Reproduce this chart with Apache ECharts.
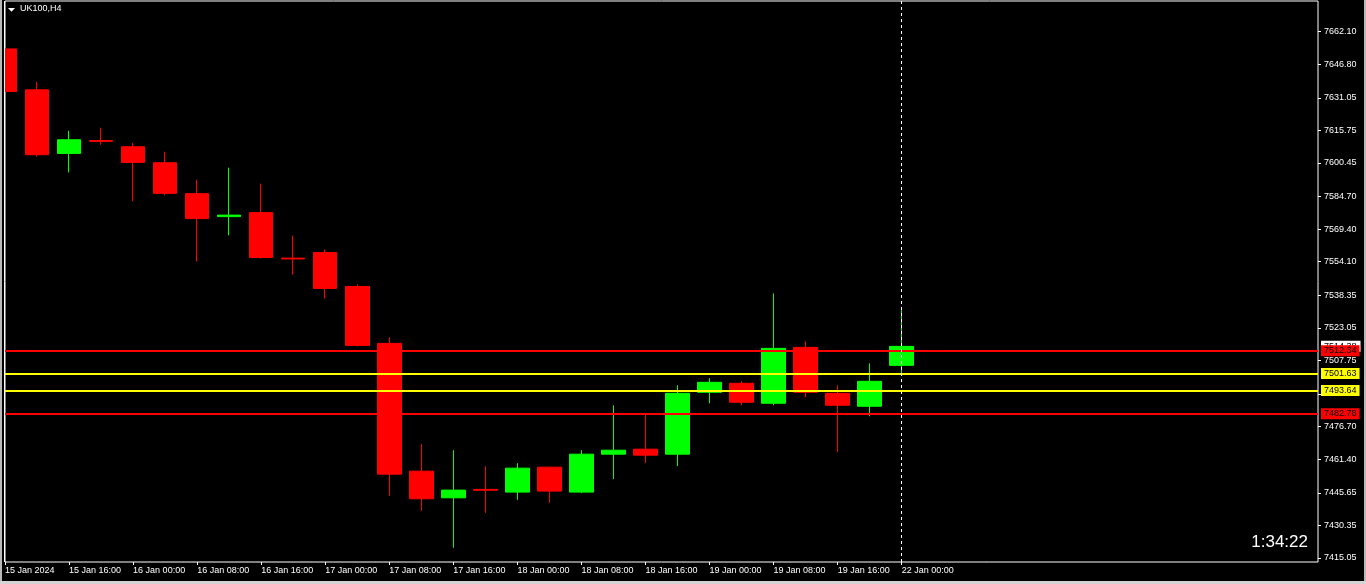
<!DOCTYPE html>
<html>
<head>
<meta charset="utf-8">
<style>
  html, body { margin: 0; padding: 0; background: #000; }
  #chart { width: 1366px; height: 584px; }
</style>
<script src="https://cdn.jsdelivr.net/npm/echarts@6/dist/echarts.min.js"></script>
</head>
<body>
<div id="chart"></div>
<script>
// ---- data ----
const symbolTitle = 'UK100,H4';
const timerText = '1:34:22';

const barTimes = [
  '15 Jan 2024', '15 Jan 12:00', '15 Jan 16:00', '15 Jan 20:00',
  '16 Jan 00:00', '16 Jan 04:00', '16 Jan 08:00', '16 Jan 12:00', '16 Jan 16:00', '16 Jan 20:00',
  '17 Jan 00:00', '17 Jan 04:00', '17 Jan 08:00', '17 Jan 12:00', '17 Jan 16:00', '17 Jan 20:00',
  '18 Jan 00:00', '18 Jan 04:00', '18 Jan 08:00', '18 Jan 12:00', '18 Jan 16:00', '18 Jan 20:00',
  '19 Jan 00:00', '19 Jan 04:00', '19 Jan 08:00', '19 Jan 12:00', '19 Jan 16:00', '19 Jan 20:00',
  '22 Jan 00:00'
];
const emptySlots = 13;

const opens  = [7654.00, 7634.78, 7604.94, 7611.00, 7608.08, 7600.58, 7586.06, 7575.28, 7577.16, 7555.80,
                7558.42, 7542.49, 7515.78, 7455.81, 7443.30, 7447.25, 7445.97, 7457.68, 7445.97, 7463.78,
                7466.12, 7463.78, 7492.82, 7497.04, 7487.67, 7513.91, 7492.35, 7486.26, 7505.47];
const closes = [7634.00, 7604.33, 7611.36, 7610.60, 7600.72, 7586.20, 7574.35, 7575.98, 7556.07, 7555.40,
                7541.55, 7514.84, 7454.41, 7442.83, 7446.91, 7446.85, 7457.22, 7446.44, 7463.78, 7465.65,
                7463.31, 7492.35, 7497.51, 7488.14, 7513.44, 7492.82, 7486.73, 7497.98, 7514.38];
const lows   = [7616.65, 7603.39, 7596.04, 7609.02, 7582.45, 7585.26, 7554.20, 7566.52, 7555.60, 7548.11,
                7536.86, 7514.38, 7444.24, 7437.21, 7419.88, 7436.27, 7442.36, 7440.96, 7445.50, 7452.06,
                7459.56, 7458.15, 7487.67, 7486.73, 7486.73, 7490.48, 7464.71, 7481.58, 7500.79];
const highs  = [7663.40, 7638.53, 7615.57, 7616.98, 7609.95, 7605.74, 7592.62, 7598.24, 7590.74, 7566.38,
                7559.82, 7543.42, 7518.59, 7468.46, 7465.65, 7458.15, 7459.56, 7457.80, 7465.65, 7486.73,
                7482.52, 7496.10, 7499.38, 7497.98, 7539.21, 7516.72, 7496.10, 7506.41, 7532.18];

const priceTicks = [7662.10, 7646.80, 7631.05, 7615.75, 7600.45, 7584.70, 7569.40, 7554.10, 7538.35,
                    7523.05, 7507.75, 7492.05, 7476.70, 7461.40, 7445.65, 7430.35, 7415.05];

const levelValues = [7512.34, 7501.63, 7493.64, 7482.78];
const levelColors = ['#ff0000', '#ffff00', '#ffff00', '#ff0000'];
const bidPrice = 7514.38;
const separatorAt = '22 Jan 00:00';

const yMin = 7413.17;
const yMax = 7676.48;

// ---- build ----
const categories = barTimes.concat(new Array(emptySlots).fill(''));
const candleData = opens.map((o, i) => [o, closes[i], lows[i], highs[i]]);
const showEven = (idx, val) => idx % 2 === 0 && val !== '';

const FONT = '"Liberation Sans", Arial, sans-serif';

const levelLines = levelValues.map((v, i) => ({
  yAxis: v,
  lineStyle: { color: levelColors[i], width: 2, type: 'solid' },
  label: {
    show: true, position: 'end', distance: 3,
    formatter: v.toFixed(2),
    color: '#000', backgroundColor: levelColors[i],
    fontFamily: FONT, fontSize: 9, lineHeight: 10, padding: [1, 3, 0, 3]
  }
}));

const chart = echarts.init(document.getElementById('chart'), null, { renderer: 'canvas' });
chart.setOption({
  backgroundColor: '#000',
  animation: false,
  grid: {
    left: 5, right: 48, top: 1, bottom: 22,
    show: true, borderColor: '#ffffff', borderWidth: 1, backgroundColor: 'transparent'
  },
  xAxis: {
    type: 'category',
    data: categories,
    boundaryGap: false,
    axisLine: { show: false },
    axisTick: { show: true, interval: showEven, length: 3, lineStyle: { color: '#fff' } },
    axisLabel: {
      show: true, interval: showEven, align: 'left', margin: 4,
      color: '#fff', fontFamily: FONT, fontSize: 9
    },
    splitLine: { show: false }
  },
  yAxis: {
    type: 'value',
    position: 'right',
    min: yMin, max: yMax,
    scale: true,
    axisLine: { show: false },
    axisTick: { show: true, customValues: priceTicks, length: 3, lineStyle: { color: '#fff' } },
    axisLabel: {
      show: true, customValues: priceTicks, margin: 6,
      color: '#fff', fontFamily: FONT, fontSize: 9,
      formatter: (v) => Number(v).toFixed(2)
    },
    splitLine: { show: false }
  },
  series: [
    {
      name: 'levels',
      type: 'line',
      data: [],
      z: 1,
      silent: true,
      markLine: {
        silent: true,
        symbol: ['none', 'none'],
        animation: false,
        data: [
          {
            yAxis: bidPrice,
            lineStyle: { color: 'rgba(0,0,0,0)', width: 0 },
            label: {
              show: true, position: 'end', distance: 3, formatter: bidPrice.toFixed(2),
              color: '#000', backgroundColor: '#ffffff',
              fontFamily: FONT, fontSize: 9, lineHeight: 10, padding: [1, 4, 0, 3]
            }
          },
          ...levelLines,
          {
            xAxis: separatorAt,
            lineStyle: { color: '#ffffff', width: 1, type: [3, 3] },
            label: { show: false }
          }
        ]
      }
    },
    {
      name: symbolTitle,
      type: 'candlestick',
      data: candleData,
      z: 2,
      barWidth: 24,
      clip: true,
      itemStyle: {
        color: '#00ff00', color0: '#ff0000',
        borderColor: '#00ff00', borderColor0: '#ff0000',
        borderWidth: 1
      }
    }
  ],
  graphic: [
    // mask left of the plot frame (clips the first, half-visible candle)
    { type: 'rect', z: 100, shape: { x: 0, y: 0, width: 4.5, height: 584 }, style: { fill: '#000' }, silent: true },
    { type: 'line', z: 101, shape: { x1: 4.5, y1: 1, x2: 4.5, y2: 562 }, style: { stroke: '#ffffff', lineWidth: 1 }, silent: true },
    { type: 'rect', z: 102, shape: { x: 0, y: 0, width: 2, height: 584 }, style: { fill: '#b8b8b8' }, silent: true },
    { type: 'rect', z: 102, shape: { x: 1364, y: 0, width: 2, height: 584 }, style: { fill: '#b8b8b8' }, silent: true },
    { type: 'rect', z: 102, shape: { x: 0, y: 581, width: 1366, height: 3 }, style: { fill: '#d4d4d4' }, silent: true },
    { type: 'polygon', z: 102, shape: { points: [[8, 8], [15, 8], [11.5, 11.7]] }, style: { fill: '#ffffff' }, silent: true },
    {
      type: 'text', z: 102, left: 20, top: 4, silent: true,
      style: { text: symbolTitle, fill: '#ffffff', font: '9px ' + FONT }
    },
    {
      type: 'text', z: 102, right: 58, top: 534, silent: true,
      style: { text: timerText, fill: '#ffffff', font: '17px ' + FONT, align: 'right' }
    }
  ]
});
</script>
</body>
</html>
